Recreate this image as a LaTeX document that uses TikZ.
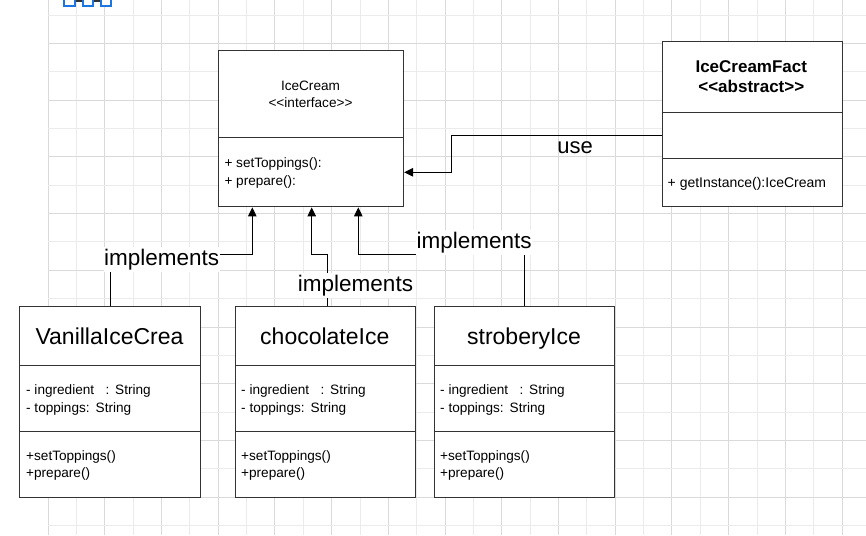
\documentclass[tikz,border=0pt]{standalone}
\usepackage{fontspec}
\setmainfont{Liberation Sans}
\usetikzlibrary{arrows.meta}
\definecolor{gridA}{HTML}{DADADA}
\definecolor{gridB}{HTML}{EBEBEB}
\definecolor{boxline}{HTML}{333333}
\definecolor{iconblue}{RGB}{29,117,227}
\newcommand{\dlt}{<\kern0pt<}
\newcommand{\dgt}{>\kern0pt>}
\tikzset{
  classbox/.style={draw=boxline, line width=1.1pt, fill=white, inner sep=0pt, anchor=north west},
  divider/.style={draw=boxline, line width=1.1pt},
  txt/.style={font={\fontsize{13.6pt}{16pt}\selectfont}, inner sep=0pt, anchor=base west},
  ctitle/.style={font={\fontsize{23pt}{27pt}\selectfont}, inner sep=0pt, anchor=base},
  btitle/.style={font={\fontsize{17pt}{20pt}\selectfont\bfseries}, inner sep=0pt, anchor=base},
  conn/.style={draw=black, line width=0.9pt, -{Triangle[length=9pt,width=8.5pt]}},
  lbl/.style={font={\fontsize{22.5pt}{26pt}\selectfont}, fill=white, inner xsep=0.5pt, inner ysep=2pt, anchor=base},
}
\begin{document}
\begin{tikzpicture}[x=1pt,y=-1pt]
\useasboundingbox (0,0) rectangle (866,535);
\begin{scope}
\clip (0,0) rectangle (866,535);
% grid
\foreach \k in {0,...,28}{
  \pgfmathsetmacro{\gx}{48+28.36*\k}
  \ifodd\k \def\gc{gridB}\else \def\gc{gridA}\fi
  \draw[draw=\gc, line width=0.9pt] (\gx,0) -- (\gx,535);
}
\foreach \k in {0,...,18}{
  \pgfmathsetmacro{\gy}{15+28.36*\k}
  \ifodd\k \def\gc{gridA}\else \def\gc{gridB}\fi
  \draw[draw=\gc, line width=0.9pt] (48,\gy) -- (866,\gy);
}
% top-left icon
\draw[black!80, line width=1.5pt] (75.7,1) -- (81.7,1) (94,1) -- (99.7,1);
\draw[iconblue, line width=1.8pt, fill=white] (64.2,-6) rectangle (74.8,6.4);
\draw[iconblue, line width=1.8pt, fill=white] (82.6,-6) rectangle (93.1,6.4);
\draw[iconblue, line width=1.8pt, fill=white] (100.6,-6) rectangle (111.1,6.4);
\end{scope}

% IceCream interface
\node[classbox, minimum width=185pt, minimum height=156pt] (ice) at (218,50.3) {};
\draw[divider] ([yshift=-87pt]ice.north west) -- ([yshift=-87pt]ice.north east);
\node[txt, anchor=base] (iceT1) at (310.5,90.7) {IceCream};
\node[txt, anchor=base] (iceT2) at (310.5,107.7) {\dlt interface\dgt};
\node[txt] (iceM1) at (224.3,167.7) {+ setToppings():};
\node[txt] (iceM2) at (224.3,185.7) {+ prepare():};

% IceCreamFact
\node[classbox, minimum width=180.3pt, minimum height=165.3pt] (fact) at (661.7,40.7) {};
\draw[divider] ([yshift=-71.6pt]fact.north west) -- ([yshift=-71.6pt]fact.north east);
\draw[divider] ([yshift=-117.6pt]fact.north west) -- ([yshift=-117.6pt]fact.north east);
\node[btitle] (factT1) at (751.3,72.3) {IceCreamFact};
\node[btitle] (factT2) at (751.3,92.7) {\dlt abstract\dgt};
\node[txt, font={\fontsize{14pt}{16pt}\selectfont}] (factM1) at (667.5,187.7) {+ getInstance():IceCream};

% VanillaIceCrea
\node[classbox, minimum width=181pt, minimum height=191.6pt] (van) at (19.3,305.7) {};
\draw[divider] ([yshift=-59.6pt]van.north west) -- ([yshift=-59.6pt]van.north east);
\draw[divider] ([yshift=-125.6pt]van.north west) -- ([yshift=-125.6pt]van.north east);
\node[ctitle] (vanT) at (109.5,344) {VanillaIceCrea};
\node[txt] (vanA1) at (26,394.3) {- ingredient\hspace{11.5pt}:\hspace{5.7pt}String};
\node[txt] (vanA2) at (26,412) {- toppings:\hspace{6pt}String};
\node[txt] (vanM1) at (26,460) {+setToppings()};
\node[txt] (vanM2) at (26,477.3) {+prepare()};

% chocolateIce
\node[classbox, minimum width=180.3pt, minimum height=191.6pt] (choc) at (235,305.7) {};
\draw[divider] ([yshift=-59.6pt]choc.north west) -- ([yshift=-59.6pt]choc.north east);
\draw[divider] ([yshift=-125.6pt]choc.north west) -- ([yshift=-125.6pt]choc.north east);
\node[ctitle] (chocT) at (324.8,344) {chocolateIce};
\node[txt] (chocA1) at (241,394.3) {- ingredient\hspace{11.5pt}:\hspace{5.7pt}String};
\node[txt] (chocA2) at (241,412) {- toppings:\hspace{6pt}String};
\node[txt] (chocM1) at (241,460) {+setToppings()};
\node[txt] (chocM2) at (241,477.3) {+prepare()};

% stroberyIce
\node[classbox, minimum width=180.6pt, minimum height=191.6pt] (strob) at (433.7,305.7) {};
\draw[divider] ([yshift=-59.6pt]strob.north west) -- ([yshift=-59.6pt]strob.north east);
\draw[divider] ([yshift=-125.6pt]strob.north west) -- ([yshift=-125.6pt]strob.north east);
\node[ctitle] (strobT) at (524,344) {stroberyIce};
\node[txt] (strobA1) at (440,394.3) {- ingredient\hspace{11.5pt}:\hspace{5.7pt}String};
\node[txt] (strobA2) at (440,412) {- toppings:\hspace{6pt}String};
\node[txt] (strobM1) at (440,460) {+setToppings()};
\node[txt] (strobM2) at (440,477.3) {+prepare()};

% connectors
\draw[conn] (van.north) -- ++(0,-51.7) -| ([xshift=34.3pt]ice.south west);
\draw[conn] ([xshift=1.5pt]choc.north) -- ++(0,-51.7) -| ([xshift=93.7pt]ice.south west);
\draw[conn] ([xshift=0.3pt]strob.north) -- ++(0,-51.7) -| ([xshift=140.3pt]ice.south west);
\draw[conn] ([yshift=-95pt]fact.north west) -- ++(-210,0) |- ([yshift=-122pt]ice.north east);

% labels
\node[lbl] (l1) at (161.7,265) {implements};
\node[lbl] (l2) at (355.5,291.7) {implements};
\node[lbl] (l3) at (474.2,248.3) {implements};
\node[font={\fontsize{22pt}{26pt}\selectfont}, inner sep=0pt, anchor=base] (luse) at (575,153.3) {use};
\end{tikzpicture}
\end{document}
